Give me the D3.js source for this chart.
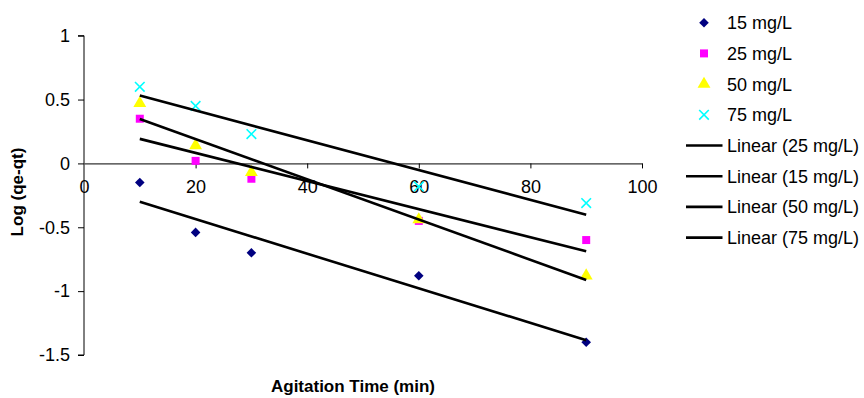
<!DOCTYPE html>
<html><head><meta charset="utf-8">
<script src="https://cdn.jsdelivr.net/npm/d3@7/dist/d3.min.js"></script>
<style>body{margin:0;background:#fff}svg{display:block}text{font-family:Arial,"Liberation Sans",sans-serif}</style>
</head><body>
<script>
const times = [10, 20, 30, 60, 90];
const s15 = [-0.15, -0.54, -0.70, -0.88, -1.40];
const s25 = [0.35, 0.02, -0.12, -0.45, -0.60];
const s50 = [0.47, 0.14, -0.07, -0.44, -0.88];
const s75 = [0.60, 0.45, 0.23, -0.18, -0.31];
const seriesNames = ["15 mg/L", "25 mg/L", "50 mg/L", "75 mg/L"];
const trendOrder = ["25 mg/L", "15 mg/L", "50 mg/L", "75 mg/L"];
const xTicks = [0, 20, 40, 60, 80, 100];
const yTicks = [1, 0.5, 0, -0.5, -1, -1.5];
const yTickLabels = ["1", "0.5", "0", "-0.5", "-1", "-1.5"];
const xTitle = "Agitation Time (min)";
const yTitle = "Log (qe-qt)";

const W = 864, H = 398;
const svg = d3.select("body").append("svg").attr("width", W).attr("height", H);
const x = d3.scaleLinear().domain([0, 100]).range([84, 642]);
const y = d3.scaleLinear().domain([-1.5, 1]).range([355, 35.7]);

const values = {"15 mg/L": s15, "25 mg/L": s25, "50 mg/L": s50, "75 mg/L": s75};
const styles = {
  "15 mg/L": {type: d3.symbolSquare, size: 46, fill: "#000080", rotate: 45},
  "25 mg/L": {type: d3.symbolSquare, size: 64, fill: "#FF00FF"},
  "50 mg/L": {type: d3.symbolTriangle, size: 72, fill: "#FFFF00"},
  "75 mg/L": {type: "x", size: 4.8, stroke: "#00FFFF"}
};

// y axis
const yAxis = d3.axisLeft(y).tickValues(yTicks).tickSize(6).tickPadding(8)
  .tickFormat((d, i) => yTickLabels[i]);
const gy = svg.append("g").attr("transform", `translate(${x(0)},0)`).call(yAxis);
gy.select(".domain").attr("stroke", "#000").attr("d", `M-6,${y(1)}H0V${y(-1.5)}H-6`);
gy.selectAll("text").attr("font-size", 18).attr("fill", "#000");
gy.selectAll("line").attr("stroke", "#000");

// x axis at y=0
const xAxis = d3.axisBottom(x).tickValues(xTicks).tickSize(5).tickPadding(12).tickSizeOuter(0);
const gx = svg.append("g").attr("transform", `translate(0,${y(0)})`).call(xAxis);
gx.select(".domain").attr("stroke", "#000");
gx.selectAll("text").attr("font-size", 18).attr("fill", "#000");
gx.selectAll("line").attr("stroke", "#000");
gx.selectAll(".tick").filter(d => d === 0).select("line").remove();

// markers
function drawMarker(g, name, cx, cy) {
  const st = styles[name];
  if (st.type === "x") {
    const r = st.size;
    g.append("path").attr("d", `M${cx - r},${cy - r}L${cx + r},${cy + r}M${cx - r},${cy + r}L${cx + r},${cy - r}`)
      .attr("stroke", st.stroke).attr("stroke-width", 1.6).attr("fill", "none");
  } else {
    g.append("path").attr("d", d3.symbol().type(st.type).size(st.size)())
      .attr("transform", `translate(${cx},${cy})` + (st.rotate ? ` rotate(${st.rotate})` : ""))
      .attr("fill", st.fill);
  }
}

const gm = svg.append("g");
seriesNames.forEach(name => {
  values[name].forEach((v, i) => drawMarker(gm, name, x(times[i]), y(v)));
});

// linear trend lines (least squares)
function fit(xs, ys) {
  const mx = d3.mean(xs), my = d3.mean(ys);
  let sxy = 0, sxx = 0;
  xs.forEach((xv, i) => { sxy += (xv - mx) * (ys[i] - my); sxx += (xv - mx) ** 2; });
  const b = sxy / sxx;
  return t => my + b * (t - mx);
}
const gl = svg.append("g");
trendOrder.forEach(name => {
  const f = fit(times, values[name]);
  const x0 = d3.min(times), x1 = d3.max(times);
  gl.append("line").attr("x1", x(x0)).attr("y1", y(f(x0))).attr("x2", x(x1)).attr("y2", y(f(x1)))
    .attr("stroke", "#000").attr("stroke-width", 2.6);
});

// axis titles
svg.append("text").attr("x", 353).attr("y", 392).attr("text-anchor", "middle")
  .attr("font-size", 17).attr("font-weight", "bold").text(xTitle);
svg.append("text").attr("transform", "translate(23,192) rotate(-90)").attr("text-anchor", "middle")
  .attr("font-size", 17).attr("font-weight", "bold").text(yTitle);

// legend
const lg = svg.append("g");
const rowY = i => 22.7 + i * 30.7;
seriesNames.forEach((name, i) => {
  drawMarker(lg, name, 704, rowY(i));
  lg.append("text").attr("x", 727).attr("y", rowY(i)).attr("dy", "0.36em").attr("font-size", 18).text(name);
});
trendOrder.forEach((name, j) => {
  const i = j + 4;
  lg.append("line").attr("x1", 686).attr("x2", 722.5).attr("y1", rowY(i)).attr("y2", rowY(i))
    .attr("stroke", "#000").attr("stroke-width", 2.6);
  lg.append("text").attr("x", 727).attr("y", rowY(i)).attr("dy", "0.36em").attr("font-size", 18).text(`Linear (${name})`);
});
</script>
</body></html>
